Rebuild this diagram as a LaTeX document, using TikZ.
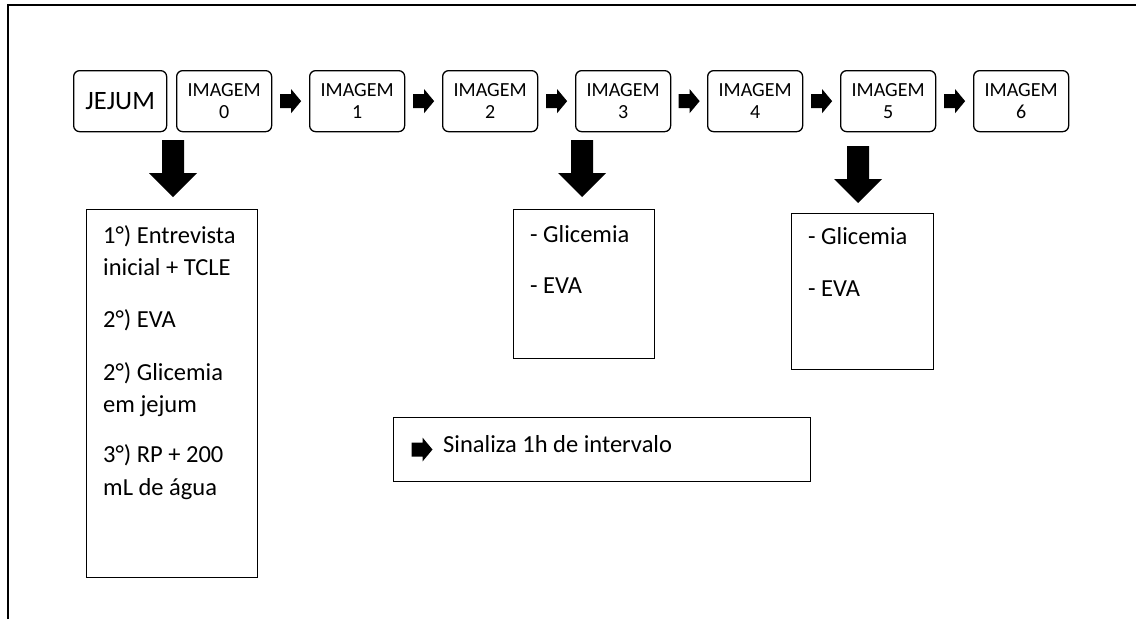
\documentclass[tikz,border=0pt]{standalone}
\usepackage{fontspec}
\setmainfont{Carlito}
\usetikzlibrary{calc}
\begin{document}
\begin{tikzpicture}[x=1pt,y=-1pt,
  proc/.style={draw=black, line width=1.3pt, rounded corners=6pt, minimum width=95pt, minimum height=61pt,
    inner sep=0pt, align=center, font=\fontsize{20}{21.5}\selectfont, anchor=north west},
  infobox/.style={draw=black, line width=1.3pt, anchor=north west, inner sep=0pt},
  txt/.style={anchor=base west, inner sep=0pt, font=\fontsize{24.5}{29}\selectfont},
  smallarr/.pic={\fill (-10.5,-7) -- (0.5,-7) -- (0.5,-12) -- (10.5,0) -- (0.5,12) -- (0.5,7) -- (-10.5,7) -- cycle;},
  bigarr/.pic={\fill (-11,0) -- (11,0) -- (11,33) -- (24,33) -- (0,57) -- (-24,33) -- (-11,33) -- cycle;}
]
\useasboundingbox (0,0) rectangle (1136,619);
\fill[white] (0,0) rectangle (1136,619);
% frame
\coordinate (fbl) at (8,619);
\coordinate (ftl) at (8,5);
\coordinate (ftr) at (1136,5);
\draw[line width=2pt] (fbl) -- (ftl) -- (ftr);

% process row
\node[proc, minimum width=93pt, font=\fontsize{26.5}{30}\selectfont] (jejum) at (73,70) {JEJUM};
\node[proc] (i0) at (176,70) {IMAGEM\\0};
\node[proc] (i1) at (309,70) {IMAGEM\\1};
\node[proc] (i2) at (442,70) {IMAGEM\\2};
\node[proc] (i3) at (575,70) {IMAGEM\\3};
\node[proc] (i4) at (707,70) {IMAGEM\\4};
\node[proc] (i5) at (840,70) {IMAGEM\\5};
\node[proc] (i6) at (973,70) {IMAGEM\\6};

\foreach \a/\b in {i0/i1,i1/i2,i2/i3,i3/i4,i4/i5,i5/i6}
  \pic at ($(\a.east)!0.5!(\b.west)$) {smallarr};

% big arrows
\pic at (173,140) {bigarr};
\pic at (582,140) {bigarr};
\pic at (858,146) {bigarr};

% info boxes
\node[infobox, minimum width=171pt, minimum height=368pt] (b0) at (86,209) {};
\node[infobox, minimum width=141pt, minimum height=149pt] (b3) at (513,209) {};
\node[infobox, minimum width=142pt, minimum height=156pt] (b5) at (791,213) {};
\node[infobox, minimum width=417pt, minimum height=64pt] (leg) at (393,417) {};

\node[txt] (t01) at (103,243) {1°) Entrevista};
\node[txt] (t02) at (103,275) {inicial + TCLE};
\node[txt] (t03) at (103,327) {2°) EVA};
\node[txt] (t04) at (103,380) {2°) Glicemia};
\node[txt] (t05) at (103,412) {em jejum};
\node[txt] (t06) at (103,462) {3°) RP + 200};
\node[txt] (t07) at (103,495) {mL de água};

\node[txt] (t31) at (530,242) {- Glicemia};
\node[txt] (t32) at (530,293) {- EVA};

\node[txt] (t51) at (808,244) {- Glicemia};
\node[txt] (t52) at (808,296) {- EVA};

\pic at (422,449.5) {smallarr};
\node[txt] (tleg) at (443,452) {Sinaliza 1h de intervalo};
\end{tikzpicture}
\end{document}
